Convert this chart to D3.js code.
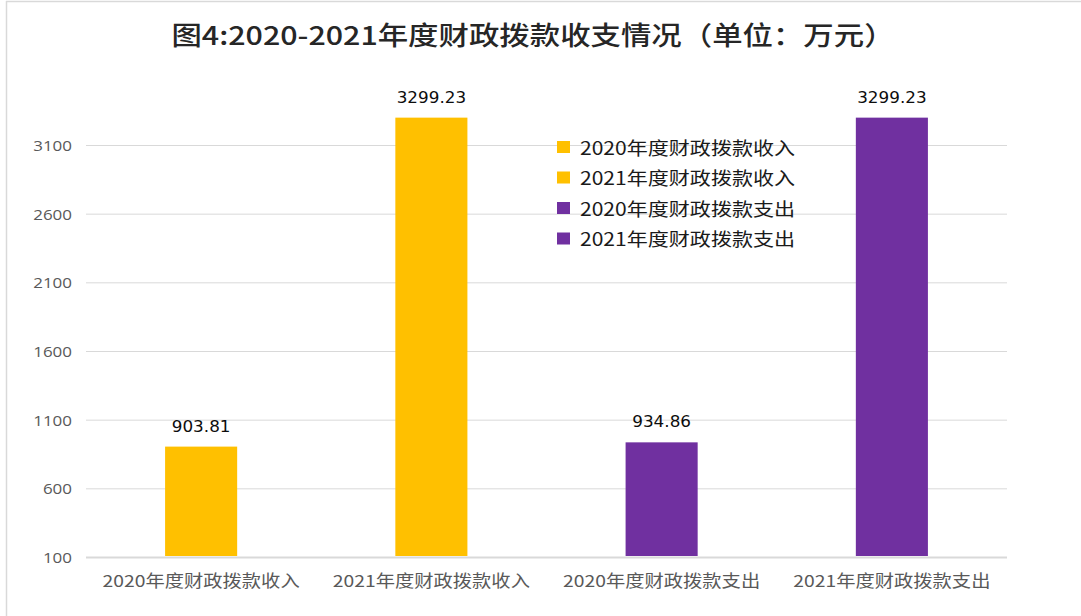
<!DOCTYPE html>
<html>
<head>
<meta charset="utf-8">
<script src="https://cdn.jsdelivr.net/npm/d3@7"></script>
<style>
  html, body { margin: 0; padding: 0; background: #fff; }
  svg { display: block; }
</style>
</head>
<body>
<svg id="chart" width="1081" height="616"></svg>
<script>
// ---- data ----
const titleText = "图4:2020-2021年度财政拨款收支情况（单位：万元）";
const categories = ["2020年度财政拨款收入", "2021年度财政拨款收入", "2020年度财政拨款支出", "2021年度财政拨款支出"];
const values = [903.81, 3299.23, 934.86, 3299.23];
const valueLabels = ["903.81", "3299.23", "934.86", "3299.23"];
const barColors = ["#FFC000", "#FFC000", "#7030A0", "#7030A0"];
const yTicks = [100, 600, 1100, 1600, 2100, 2600, 3100];

// ---- layout / style ----
const W = 1081, H = 616;
const plot = { left: 86, right: 1007, top: 145, bottom: 557 };
const SX = 1.17; // horizontal text stretch
const gridColor = "#d9d9d9";

const svg = d3.select("#chart");

// frame
svg.append("line").attr("x1", 6.5).attr("x2", 6.5).attr("y1", 1).attr("y2", H)
  .attr("stroke", gridColor).attr("stroke-width", 1.5);
svg.append("line").attr("x1", 6).attr("x2", W).attr("y1", 1.5).attr("y2", 1.5)
  .attr("stroke", gridColor).attr("stroke-width", 1.5);

// scales
const x = d3.scaleBand().domain(categories).range([plot.left, plot.right])
  .paddingInner(0.687).paddingOuter(0.3435);
const y = d3.scaleLinear().domain([100, 3100]).range([plot.bottom, plot.top]);

// y axis with gridlines
const yAxis = d3.axisLeft(y).tickValues(yTicks).tickSize(-(plot.right - plot.left)).tickFormat(d3.format("d"));
const gy = svg.append("g").attr("transform", `translate(${plot.left},0)`).call(yAxis);
gy.select(".domain").remove();
gy.selectAll(".tick line").attr("stroke", gridColor)
  .attr("stroke-width", d => d === 100 ? 2 : 1);
gy.selectAll(".tick text")
  .attr("x", null).attr("dy", null)
  .attr("transform", "translate(-14,0) scale(" + SX + ",1)")
  .attr("dominant-baseline", "central")
  .attr("fill", "#595959")
  .style("font-family", "'Open Sans', 'Liberation Sans', sans-serif")
  .style("font-size", "14.5px");

// x axis labels
const xAxis = d3.axisBottom(x).tickSize(0).tickPadding(0);
const gx = svg.append("g").attr("transform", `translate(0,${plot.bottom})`).call(xAxis);
gx.select(".domain").remove();
gx.selectAll(".tick text")
  .attr("y", null).attr("dy", null)
  .attr("transform", "translate(0,23) scale(" + SX + ",1)")
  .attr("dominant-baseline", "central")
  .attr("fill", "#595959")
  .style("font-family", "'Noto Sans CJK SC', sans-serif")
  .style("font-size", "16.5px");

// bars
const data = categories.map((c, i) => ({ c, v: values[i], label: valueLabels[i], color: barColors[i] }));
svg.append("g").selectAll("rect").data(data).join("rect")
  .attr("x", d => x(d.c))
  .attr("width", x.bandwidth())
  .attr("y", d => y(d.v))
  .attr("height", d => y(100) - y(d.v) - 1)
  .attr("fill", d => d.color);

// value labels
svg.append("g").selectAll("text").data(data).join("text")
  .attr("transform", d => `translate(${x(d.c) + x.bandwidth() / 2},${y(d.v) - 15}) scale(1.12,1)`)
  .attr("text-anchor", "middle")
  .attr("fill", "#0d0d0d")
  .style("font-family", "'DejaVu Sans', sans-serif")
  .style("font-size", "15px")
  .text(d => d.label);

// title
svg.append("text")
  .attr("transform", `translate(533,34) scale(${SX},1)`)
  .attr("text-anchor", "middle")
  .attr("dominant-baseline", "central")
  .attr("fill", "#262626")
  .style("font-family", "'Noto Sans CJK SC', sans-serif")
  .style("font-weight", "500")
  .style("font-size", "26px")
  .text(titleText);

// legend
const legend = svg.append("g");
const lg = legend.selectAll("g").data(data).join("g")
  .attr("transform", (d, i) => `translate(557,${147 + i * 30.5})`);
lg.append("rect").attr("x", 0).attr("y", -6).attr("width", 13).attr("height", 12)
  .attr("fill", d => d.color);
lg.append("text")
  .attr("transform", `translate(23,0) scale(${SX},1)`)
  .attr("dominant-baseline", "central")
  .attr("fill", "#1a1a1a")
  .style("font-family", "'Noto Sans CJK SC', sans-serif")
  .style("font-size", "18px")
  .text(d => d.c);
</script>
</body>
</html>
